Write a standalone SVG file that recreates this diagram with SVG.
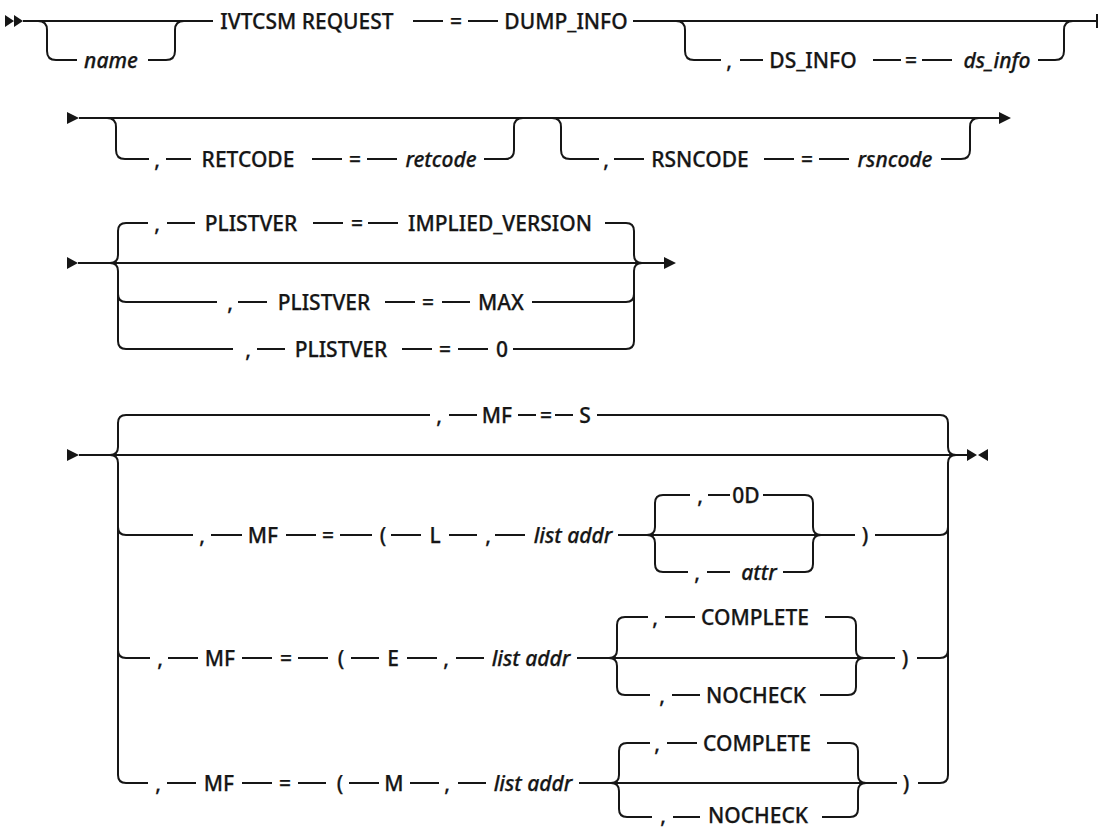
<svg xmlns="http://www.w3.org/2000/svg" width="1099" height="828" viewBox="0 0 1099 828">
<style>
.t{font-family:"Noto Sans","Open Sans","Liberation Sans",sans-serif;font-size:21px;font-weight:500;fill:#161616;stroke:#161616;stroke-width:0.25;text-anchor:middle}
.i{font-style:italic}
.l{fill:none;stroke:#161616;stroke-width:2}
.a{fill:#161616;stroke:none}
</style>
<rect width="1099" height="828" fill="#ffffff"/>
<g id="connectors">
<path class="l" d="M23 21H213M633 21H1097M1097 14V28M413 21H443M468 21H498"/>
<path class="l" d="M38 21Q47 21 47 30V51Q47 60 56 60H77M148 60H166Q175 60 175 51V30Q175 21 184 21"/>
<path class="l" d="M676 21Q685 21 685 30V51Q685 60 694 60H721M740 60H763M873 60H901M922 60H952M1038 60H1055Q1064 60 1064 51V30Q1064 21 1073 21"/>
<path class="l" d="M79 118H999"/>
<path class="l" d="M107 118Q116 118 116 127V150Q116 159 125 159H149M166 159H191M312 159H342M367 159H397M484 159H505Q514 159 514 150V127Q514 118 523 118"/>
<path class="l" d="M552 118Q561 118 561 127V150Q561 159 570 159H599M614 159H644M764 159H794M819 159H849M941 159H961Q970 159 970 150V127Q970 118 979 118"/>
<path class="l" d="M78 263H664"/>
<path class="l" d="M126 223Q118 223 118 231V255Q118 263 110 263Q118 263 118 271V341Q118 349 126 349M118 294Q118 302 126 302"/>
<path class="l" d="M626 223Q634 223 634 231V255Q634 263 642 263Q634 263 634 271V341Q634 349 626 349M634 294Q634 302 626 302"/>
<path class="l" d="M126 223H148M167 223H195M313 223H343M368 223H398M605 223H626"/>
<path class="l" d="M126 302H217M238 302H267M385 302H415M442 302H470M532 302H626"/>
<path class="l" d="M126 349H233M257 349H285M402 349H432M458 349H488M513 349H626"/>
<path class="l" d="M79 455H967"/>
<path class="l" d="M126 415Q118 415 118 423V447Q118 455 110 455Q118 455 118 463V775Q118 783 126 783M118 527Q118 535 126 535M118 650Q118 658 126 658"/>
<path class="l" d="M940 415Q948 415 948 423V447Q948 455 956 455Q948 455 948 463V775Q948 783 940 783M948 527Q948 535 940 535M948 650Q948 658 940 658"/>
<path class="l" d="M126 415H430M449 415H477M518 415H536M555 415H573M597 415H940"/>
<path class="l" d="M126 535H193M211 535H242M286 535H316M340 535H372M391 535H421M449 535H477M495 535H525M618 535H855M875 535H940"/>
<path class="l" d="M663 495Q655 495 655 503V527Q655 535 647 535Q655 535 655 543V564Q655 572 663 572M805 495Q813 495 813 503V527Q813 535 821 535Q813 535 813 543V564Q813 572 805 572"/>
<path class="l" d="M663 495H690M708 495H730M763 495H805M663 572H688M707 572H730M783 572H805"/>
<path class="l" d="M126 658H150M168 658H198M242 658H272M298 658H328M351 658H379M407 658H437M456 658H484M577 658H895M917 658H940"/>
<path class="l" d="M625 617Q617 617 617 625V650Q617 658 609 658Q617 658 617 666V687Q617 695 625 695M848 617Q856 617 856 625V650Q856 658 864 658Q856 658 856 666V687Q856 695 848 695"/>
<path class="l" d="M625 617H648M665 617H695M825 617H848M625 695H650M672 695H700M820 695H848"/>
<path class="l" d="M126 783H148M167 783H196M242 783H272M298 783H326M349 783H379M410 783H439M458 783H486M579 783H897M918 783H940"/>
<path class="l" d="M627 743Q619 743 619 751V775Q619 783 611 783Q619 783 619 791V809Q619 817 627 817M850 743Q858 743 858 751V775Q858 783 866 783Q858 783 858 791V809Q858 817 850 817"/>
<path class="l" d="M627 743H650M667 743H697M827 743H850M627 817H652M673 817H700M822 817H850"/>
<path class="a" d="M5 15L14 21L5 27ZM14 15L23 21L14 27Z"/>
<path class="a" d="M67 112L79 118L67 124ZM999 112L1011 118L999 124Z"/>
<path class="a" d="M67 257L78 263L67 269ZM664 257L676 263L664 269Z"/>
<path class="a" d="M67 449L79 455L67 461ZM967 449L977 455L967 461ZM988 449L978 455L988 461Z"/>
</g>
<g id="row1">
<g id="n-name"><text class="t i" x="111" y="67.5">name</text></g>
<g id="n-ivtcsm"><text class="t" x="307" y="28.5">IVTCSM REQUEST</text></g>
<g id="n-eq1"><text class="t" x="456" y="28.5">=</text></g>
<g id="n-dump"><text class="t" x="566" y="28.5">DUMP_INFO</text></g>
<g id="n-dsinfo"><text class="t" x="729" y="67.5">,</text><text class="t" x="813" y="67.5">DS_INFO</text><text class="t" x="911" y="67.5">=</text><text class="t i" x="997" y="67.5">ds_info</text></g>
</g>
<g id="row2">
<g id="n-retcode"><text class="t" x="157" y="166.5">,</text><text class="t" x="248" y="166.5">RETCODE</text><text class="t" x="355" y="166.5">=</text><text class="t i" x="441" y="166.5">retcode</text></g>
<g id="n-rsncode"><text class="t" x="606" y="166.5">,</text><text class="t" x="700" y="166.5">RSNCODE</text><text class="t" x="807" y="166.5">=</text><text class="t i" x="895" y="166.5">rsncode</text></g>
</g>
<g id="row3">
<g id="n-plist-implied"><text class="t" x="157" y="230.5">,</text><text class="t" x="251" y="230.5">PLISTVER</text><text class="t" x="357" y="230.5">=</text><text class="t" x="500" y="230.5">IMPLIED_VERSION</text></g>
<g id="n-plist-max"><text class="t" x="230" y="309.5">,</text><text class="t" x="324" y="309.5">PLISTVER</text><text class="t" x="428" y="309.5">=</text><text class="t" x="501" y="309.5">MAX</text></g>
<g id="n-plist-0"><text class="t" x="248" y="356.5">,</text><text class="t" x="341" y="356.5">PLISTVER</text><text class="t" x="445" y="356.5">=</text><text class="t" x="502" y="356.5">0</text></g>
</g>
<g id="row4">
<g id="n-mf-s"><text class="t" x="439" y="422.5">,</text><text class="t" x="497" y="422.5">MF</text><text class="t" x="546" y="422.5">=</text><text class="t" x="585" y="422.5">S</text></g>
<g id="n-mf-l"><text class="t" x="202" y="542.5">,</text><text class="t" x="263" y="542.5">MF</text><text class="t" x="328" y="542.5">=</text><text class="t" x="383" y="542.5">(</text><text class="t" x="435" y="542.5">L</text><text class="t" x="488" y="542.5">,</text><text class="t i" x="573" y="542.5">list addr</text><text class="t" x="865" y="542.5">)</text></g>
<g id="n-0d"><text class="t" x="700" y="502.5">,</text><text class="t" x="746" y="502.5">0D</text></g>
<g id="n-attr"><text class="t" x="697" y="579.5">,</text><text class="t i" x="759" y="579.5">attr</text></g>
<g id="n-mf-e"><text class="t" x="160" y="665.5">,</text><text class="t" x="220" y="665.5">MF</text><text class="t" x="286" y="665.5">=</text><text class="t" x="341" y="665.5">(</text><text class="t" x="393" y="665.5">E</text><text class="t" x="446" y="665.5">,</text><text class="t i" x="531" y="665.5">list addr</text><text class="t" x="905" y="665.5">)</text></g>
<g id="n-e-complete"><text class="t" x="655" y="624.5">,</text><text class="t" x="755" y="624.5">COMPLETE</text></g>
<g id="n-e-nocheck"><text class="t" x="662" y="702.5">,</text><text class="t" x="756" y="702.5">NOCHECK</text></g>
<g id="n-mf-m"><text class="t" x="158" y="790.5">,</text><text class="t" x="219" y="790.5">MF</text><text class="t" x="285" y="790.5">=</text><text class="t" x="340" y="790.5">(</text><text class="t" x="394" y="790.5">M</text><text class="t" x="447" y="790.5">,</text><text class="t i" x="533" y="790.5">list addr</text><text class="t" x="906" y="790.5">)</text></g>
<g id="n-m-complete"><text class="t" x="657" y="750.5">,</text><text class="t" x="757" y="750.5">COMPLETE</text></g>
<g id="n-m-nocheck"><text class="t" x="663" y="823">,</text><text class="t" x="758" y="823">NOCHECK</text></g>
</g>
</svg>
